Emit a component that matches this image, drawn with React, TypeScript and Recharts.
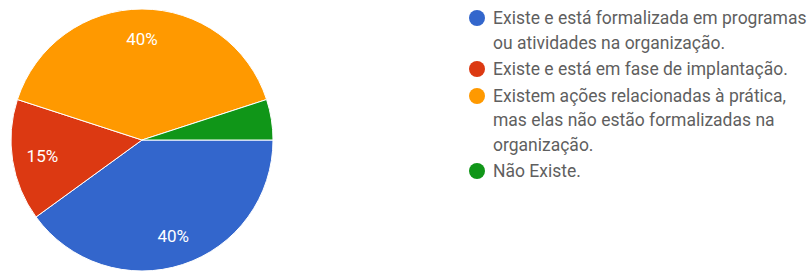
import React from 'react';
import { PieChart, Pie, Cell, Legend } from 'recharts';

const categories = [
  'Existe e está formalizada em programas ou atividades na organização.',
  'Existe e está em fase de implantação.',
  'Existem ações relacionadas à prática, mas elas não estão formalizadas na organização.',
  'Não Existe.',
];
const shares = [40, 15, 40, 5];
const colors = ['#3366cc', '#dc3912', '#ff9900', '#109618'];

const data = categories.map((name, i) => ({ name, value: shares[i] }));

const RADIAN = Math.PI / 180;
const FONT = 'Roboto, "Liberation Sans", Arial, sans-serif';

const renderLabel = (props: any) => {
  const { cx, cy, midAngle, outerRadius, percent } = props;
  if (percent < 0.1) return null;
  const r = outerRadius * 0.77;
  const x = cx + r * Math.cos(-midAngle * RADIAN);
  const y = cy + r * Math.sin(-midAngle * RADIAN);
  return (
    <text
      x={x}
      y={y}
      fill="#ffffff"
      textAnchor="middle"
      dominantBaseline="central"
      fontSize={17}
      fontFamily={FONT}
    >
      {`${Math.round(percent * 100)}%`}
    </text>
  );
};

const LegendList = () => (
  <div style={{ fontFamily: FONT, fontSize: 17.5, color: '#5f5f5f' }}>
    {categories.map((name, i) => (
      <div key={name} style={{ display: 'flex', alignItems: 'flex-start', marginBottom: 2 }}>
        <span
          style={{
            width: 16,
            height: 16,
            borderRadius: '50%',
            background: colors[i],
            marginTop: 4,
            marginRight: 8,
            flexShrink: 0,
          }}
        />
        <span style={{ width: 318, lineHeight: '24.5px' }}>{name}</span>
      </div>
    ))}
  </div>
);

export default function App() {
  return (
    <div style={{ position: 'absolute', left: 0, top: 0, width: 811, height: 272, background: '#fff' }}>
      <PieChart width={811} height={272} margin={{ top: 0, right: 0, bottom: 0, left: 0 }}>
        <Pie
          data={data}
          dataKey="value"
          nameKey="name"
          cx={142}
          cy={140}
          outerRadius={131}
          startAngle={0}
          endAngle={-360}
          stroke="#ffffff"
          strokeWidth={1}
          label={renderLabel}
          labelLine={false}
          isAnimationActive={false}
        >
          {data.map((d, i) => (
            <Cell key={d.name} fill={colors[i]} />
          ))}
        </Pie>
        <Legend
          layout="vertical"
          content={() => <LegendList />}
          wrapperStyle={{ left: 469, top: 6, width: 342 }}
        />
      </PieChart>
    </div>
  );
}
